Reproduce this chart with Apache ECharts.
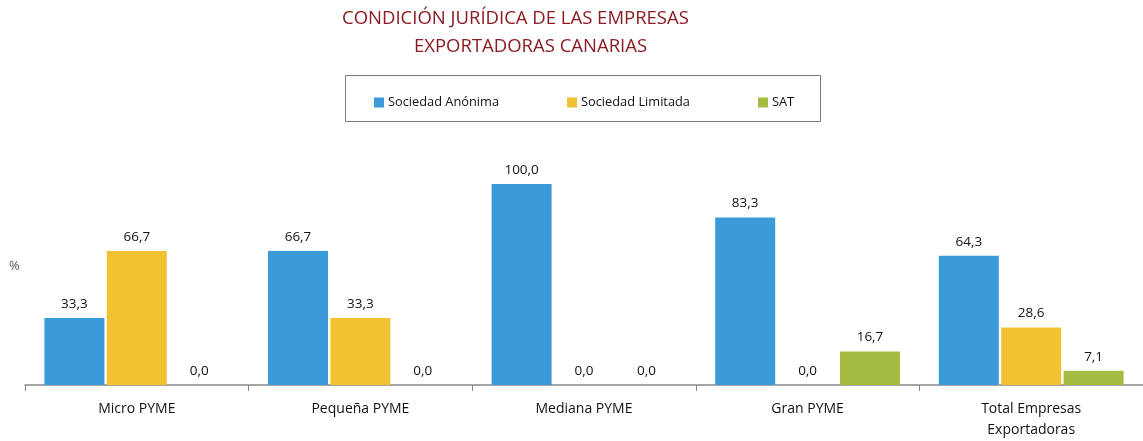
<!DOCTYPE html>
<html>
<head>
<meta charset="utf-8">
<script src="https://cdn.jsdelivr.net/npm/echarts@6/dist/echarts.min.js"></script>
<style>
  html, body { margin: 0; padding: 0; background: #fff; }
  #chart { width: 1143px; height: 441px; }
</style>
</head>
<body>
<div id="chart"></div>
<script>
// ========= 数据 =========
const categories = ["Micro PYME", "Pequeña PYME", "Mediana PYME", "Gran PYME", "Total Empresas\nExportadoras"];
const sociedadAnonima = [33.3, 66.7, 100.0, 83.3, 64.3];
const sociedadLimitada = [66.7, 33.3, 0.0, 0.0, 28.6];
const sat = [0.0, 0.0, 0.0, 16.7, 7.1];
const seriesNames = ["Sociedad Anónima", "Sociedad Limitada", "SAT"];
const colors = ["#3a9bd8", "#f2c233", "#a3bd40"];

const FONT = "'Open Sans', 'Noto Sans', sans-serif";

const fmt = p => p.value.toFixed(1).replace(".", ",");

function mkSeries(name, data, color){
    return {
        name: name,
        type: "bar",
        data: data,
        barWidth: 60,
        barGap: "4%",
        itemStyle: { color: color },
        label: {
            show: true,
            position: "top",
            distance: 7,
            formatter: fmt,
            color: "#111",
            fontSize: 13.5,
            fontFamily: FONT
        }
    };
}

const chart = echarts.init(document.getElementById("chart"));

chart.setOption({
    animation: false,
    color: colors,
    grid: { left: 25, width: 1130, top: 184, height: 205.5, containLabel: false },
    graphic: [
        {
            type: "text", left: 342, top: 9,
            style: { text: "CONDICIÓN JURÍDICA DE LAS EMPRESAS", fill: "#8a1c22", font: "18.5px " + FONT }
        },
        {
            type: "text", left: 414, top: 37,
            style: { text: "EXPORTADORAS CANARIAS", fill: "#8a1c22", font: "18.5px " + FONT }
        },
        {
            type: "rect", shape: { x: 345.5, y: 75.5, width: 475, height: 46 },
            style: { fill: "none", stroke: "#7a7a7a", lineWidth: 1 }
        },
        {
            type: "text", left: 9, top: 260,
            style: { text: "%", fill: "#555", font: "13px " + FONT }
        }
    ],
    legend: {
        left: 369, top: 91,
        itemWidth: 10, itemHeight: 10,
        itemGap: 68,
        icon: "rect",
        textStyle: { fontSize: 12.8, color: "#111", fontFamily: FONT, padding: [0, 0, 0, -1] },
        data: seriesNames
    },
    xAxis: {
        type: "category",
        data: categories,
        axisLine: { lineStyle: { color: "#888", width: 1.5 } },
        axisTick: { show: true, inside: false, length: 6, lineStyle: { color: "#888" } },
        axisLabel: { color: "#111", fontSize: 14, fontFamily: FONT, margin: 14, lineHeight: 21 }
    },
    yAxis: {
        type: "value", min: 0, max: 100,
        show: false
    },
    series: [
        mkSeries(seriesNames[0], sociedadAnonima, colors[0]),
        mkSeries(seriesNames[1], sociedadLimitada, colors[1]),
        mkSeries(seriesNames[2], sat, colors[2])
    ]
});
</script>
</body>
</html>
